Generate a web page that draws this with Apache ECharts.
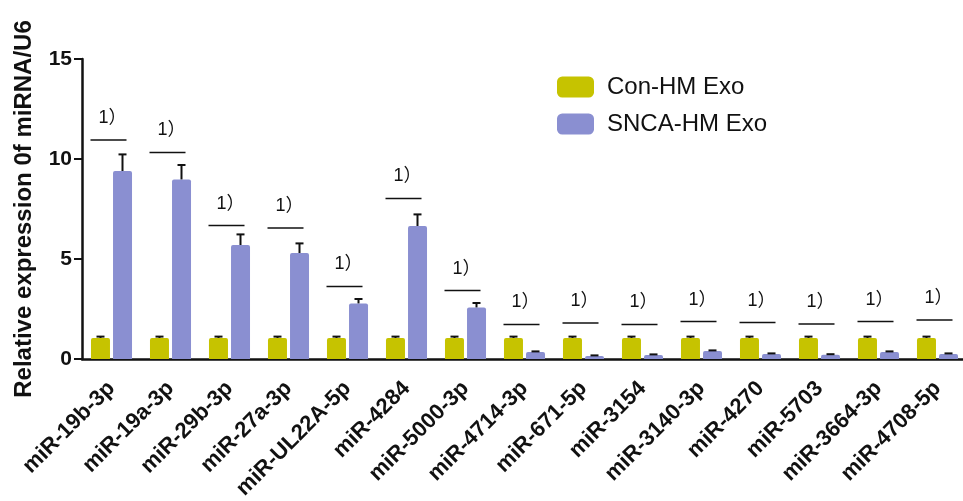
<!DOCTYPE html>
<html>
<head>
<meta charset="utf-8">
<script src="https://cdn.jsdelivr.net/npm/echarts@6/dist/echarts.min.js"></script>
<style>
  html, body { margin: 0; padding: 0; background: #fff; }
  #chart { width: 963px; height: 501px; }
</style>
</head>
<body>
<div id="chart"></div>
<script>
// miRNA panel: relative expression normalised to U6
const categories = ['miR-19b-3p', 'miR-19a-3p', 'miR-29b-3p', 'miR-27a-3p', 'miR-UL22A-5p',
  'miR-4284', 'miR-5000-3p', 'miR-4714-3p', 'miR-671-5p', 'miR-3154', 'miR-3140-3p',
  'miR-4270', 'miR-5703', 'miR-3664-3p', 'miR-4708-5p'];
const conValues = [1.05, 1.05, 1.05, 1.05, 1.05, 1.05, 1.05, 1.05, 1.05, 1.05, 1.05, 1.05, 1.05, 1.05, 1.05];
const conErrors = [0.07, 0.07, 0.07, 0.07, 0.07, 0.07, 0.07, 0.07, 0.07, 0.07, 0.07, 0.07, 0.07, 0.07, 0.07];
const sncaValues = [9.4, 8.98, 5.7, 5.3, 2.78, 6.65, 2.58, 0.35, 0.15, 0.2, 0.4, 0.25, 0.21, 0.35, 0.25];
const sncaErrors = [0.83, 0.72, 0.53, 0.48, 0.22, 0.58, 0.22, 0.03, 0.03, 0.03, 0.03, 0.03, 0.03, 0.03, 0.03];
// height of each significance bar and its marker text
const sigLevels = [10.95, 10.33, 6.67, 6.55, 3.63, 8.03, 3.42, 1.73, 1.8, 1.73, 1.87, 1.82, 1.75, 1.87, 1.95];
const sigMarks = ['1）', '1）', '1）', '1）', '1）', '1）', '1）', '1）', '1）', '1）', '1）', '1）', '1）', '1）', '1）'];
const yTicks = [0, 5, 10, 15];

const FONT = '"Liberation Sans", Arial, "Noto Sans CJK SC", sans-serif';
const YELLOW = '#c6c300';
const PURPLE = '#8a8fd1';
const BAR_W = 19;
const HALF_STEP = 11; // centre offset of each bar from the category centre

function errorBars(values, errors, shift) {
  return {
    type: 'custom',
    silent: true,
    z: 5,
    data: values.map((v, i) => [i, v, v + errors[i]]),
    renderItem: function (params, api) {
      const lo = api.coord([api.value(0), api.value(1)]);
      const hi = api.coord([api.value(0), api.value(2)]);
      const x = lo[0] + shift;
      const st = { stroke: '#111', lineWidth: 2 };
      return {
        type: 'group',
        children: [
          { type: 'line', shape: { x1: x, y1: lo[1], x2: x, y2: hi[1] }, style: st },
          { type: 'line', shape: { x1: x - 4, y1: hi[1], x2: x + 4, y2: hi[1] }, style: st }
        ]
      };
    }
  };
}

const chart = echarts.init(document.getElementById('chart'), null, { renderer: 'canvas' });
chart.setOption({
  animation: false,
  backgroundColor: '#fff',
  grid: { left: 82, top: 59, width: 885, height: 300, containLabel: false, outerBoundsMode: 'none' },
  legend: {
    orient: 'vertical',
    left: 552,
    top: 70,
    itemWidth: 37,
    itemHeight: 21,
    itemGap: 13,
    icon: 'roundRect',
    data: ['Con-HM Exo', 'SNCA-HM Exo'],
    textStyle: { fontFamily: FONT, fontSize: 24, color: '#111', lineHeight: 21, padding: [0, 0, 0, 8] }
  },
  xAxis: {
    type: 'category',
    data: categories,
    axisLine: { lineStyle: { color: '#111', width: 2.5 } },
    axisTick: { alignWithLabel: true, length: 7, lineStyle: { color: '#111', width: 2 } },
    axisLabel: {
      interval: 0, rotate: 45, margin: 26,
      fontFamily: FONT, fontSize: 22, fontWeight: 'bold', color: '#111'
    }
  },
  yAxis: {
    type: 'value',
    min: 0, max: 15, interval: 5,
    name: 'Relative expression 0f miRNA/U6',
    nameLocation: 'middle',
    nameGap: 46,
    nameTextStyle: { fontFamily: FONT, fontSize: 24, fontWeight: 'bold', color: '#111' },
    axisLine: { show: true, lineStyle: { color: '#111', width: 2.5 } },
    axisTick: { show: true, length: 8, lineStyle: { color: '#111', width: 2 } },
    axisLabel: {
      margin: 10, fontFamily: FONT, fontSize: 21, fontWeight: 'bold', color: '#111',
      formatter: v => (yTicks.indexOf(v) >= 0 ? String(v) : '')
    },
    splitLine: { show: false }
  },
  series: [
    {
      name: 'Con-HM Exo', type: 'bar', data: conValues,
      barWidth: BAR_W, barGap: '16%',
      itemStyle: { color: YELLOW, borderRadius: [2, 2, 0, 0] }
    },
    {
      name: 'SNCA-HM Exo', type: 'bar', data: sncaValues,
      barWidth: BAR_W, barGap: '16%',
      itemStyle: { color: PURPLE, borderRadius: [2, 2, 0, 0] }
    },
    errorBars(conValues, conErrors, -HALF_STEP),
    errorBars(sncaValues, sncaErrors, HALF_STEP),
    {
      // significance bars with their markers
      type: 'custom',
      silent: true,
      z: 6,
      data: sigLevels.map((v, i) => [i, v]),
      renderItem: function (params, api) {
        const p = api.coord([api.value(0), api.value(1)]);
        return {
          type: 'group',
          children: [
            { type: 'line', shape: { x1: p[0] - 21, y1: p[1], x2: p[0] + 15, y2: p[1] },
              style: { stroke: '#111', lineWidth: 1.5 } },
            { type: 'text', x: p[0] + 1, y: p[1] - 22,
              style: { text: sigMarks[params.dataIndex], fontFamily: FONT, fontSize: 18,
                fill: '#111', align: 'center', verticalAlign: 'middle' } }
          ]
        };
      }
    }
  ]
});
</script>
</body>
</html>
